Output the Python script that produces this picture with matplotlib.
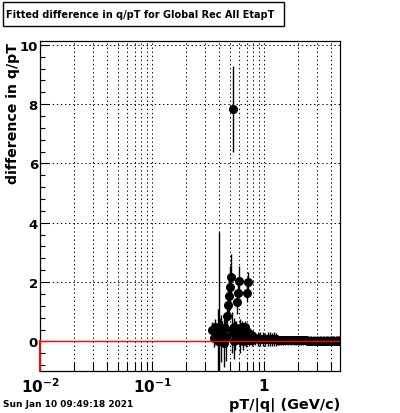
import numpy as np
import matplotlib
matplotlib.use("Agg")
import matplotlib.pyplot as plt
from matplotlib.patches import Rectangle

# low pT bins (width 0.01 GeV/c)
pt_lo = [0.345, 0.355, 0.365, 0.375, 0.385, 0.395, 0.405, 0.415, 0.425, 0.435,
         0.445, 0.455, 0.465, 0.475, 0.485, 0.495, 0.505, 0.515, 0.525, 0.535,
         0.545, 0.555, 0.565, 0.575, 0.585, 0.595, 0.605, 0.615, 0.625, 0.635,
         0.645, 0.655, 0.665, 0.675, 0.685, 0.695, 0.705, 0.715, 0.725, 0.735,
         0.745, 0.755, 0.765, 0.775, 0.785, 0.795]
dq_lo = [0.40, 0.10, 0.50, 0.20, 0.00, 0.35, 0.50, 0.10, 0.30, -0.05,
         0.45, 0.15, 0.86, 1.22, 1.54, 1.83, 2.18, 0.30, 7.85, 0.00,
         0.50, 0.20, 0.40, 1.32, 1.63, 2.05, 0.05, 0.45, 0.20, 0.50,
         0.00, 0.35, 0.15, 0.50, 0.05, 0.30, 1.63, 2.00, 0.20, 0.05,
         0.25, 0.10, 0.20, 0.05, 0.15, 0.10]
err_lo = [0.25, 0.30, 0.25, 0.30, 1.10, 3.35, 0.30, 0.80, 0.40, 0.80,
          0.30, 0.80, 0.40, 0.50, 0.60, 0.70, 0.75, 0.70, 1.45, 0.60,
          0.30, 0.50, 0.30, 0.40, 0.40, 0.50, 0.45, 0.30, 0.30, 0.20,
          0.30, 0.20, 0.25, 0.20, 0.25, 0.20, 0.30, 0.35, 0.20, 0.20,
          0.20, 0.20, 0.20, 0.20, 0.20, 0.20]

# middle pT bins (width 0.05 GeV/c)
pt_mid = [0.825, 0.875, 0.925, 0.975, 1.025, 1.075, 1.125, 1.175, 1.225, 1.275,
          1.325, 1.375, 1.425, 1.475]
dq_mid = [0.10, 0.08, 0.08, 0.08, 0.07, 0.08, 0.08, 0.07, 0.08, 0.07,
          0.03, 0.03, 0.03, 0.03]
err_mid = [0.22, 0.22, 0.22, 0.22, 0.22, 0.22, 0.22, 0.22, 0.22, 0.22,
           0.16, 0.16, 0.16, 0.16]

# higher pT bins (width 0.1 GeV/c)
pt_hi = [1.55, 1.65, 1.75, 1.85, 1.95, 2.05, 2.15, 2.25, 2.35, 2.45,
         2.55, 2.65, 2.75, 2.85, 2.95, 3.05, 3.15, 3.25, 3.35, 3.45,
         3.55, 3.65, 3.75, 3.85, 3.95, 4.05, 4.15, 4.25, 4.35, 4.45,
         4.55, 4.65, 4.75]
dq_hi = [0.03, 0.03, 0.03, 0.03, 0.03, 0.03, 0.03, 0.03, 0.03, 0.02,
         0.02, 0.02, 0.02, 0.02, 0.02, 0.02, 0.02, 0.02, 0.02, 0.02,
         0.02, 0.02, 0.02, 0.02, 0.02, 0.02, 0.02, 0.02, 0.02, 0.02,
         0.02, 0.02, 0.02]
err_hi = [0.16, 0.16, 0.16, 0.16, 0.16, 0.16, 0.16, 0.16, 0.16, 0.15,
          0.15, 0.15, 0.15, 0.15, 0.15, 0.15, 0.15, 0.15, 0.15, 0.15,
          0.15, 0.15, 0.15, 0.15, 0.15, 0.15, 0.15, 0.15, 0.15, 0.15,
          0.15, 0.15, 0.15]

title = "Fitted difference in q/pT for Global Rec All EtapT"
datestr = "Sun Jan 10 09:49:18 2021"

fig = plt.figure(figsize=(4.0, 4.14), dpi=100)
ax = fig.add_axes([0.1, 0.1014, 0.75, 0.7972])

ax.set_xscale("log")
ax.set_xlim(0.01, 4.77)
ax.set_ylim(-1.0, 10.13)

# grid
ax.grid(which="both", axis="x", color="k", ls=(0, (1.4, 2.8)), lw=0.7)
ax.grid(which="major", axis="y", color="k", ls=(0, (1.4, 2.8)), lw=0.7)
ax.set_axisbelow(True)

ax.axhline(0, color="red", lw=1.0, zorder=4)
ax.plot([0.01, 0.01], [-1.0, 0.0], color="red", lw=1.4, clip_on=False, zorder=5)

ax.errorbar(pt_lo, dq_lo, xerr=0.005, yerr=err_lo, fmt="o", color="k",
            ms=5.5, lw=1.0, capsize=0, zorder=3)
ax.errorbar(pt_mid, dq_mid, xerr=0.025, yerr=err_mid, fmt="o", color="k",
            ms=5.5, lw=1.0, capsize=0, zorder=3)
ax.errorbar(pt_hi, dq_hi, xerr=0.05, yerr=err_hi, fmt="o", color="k",
            ms=5.5, lw=1.0, capsize=0, zorder=3)

# ticks
ax.set_xticks([0.01, 0.1, 1])
ax.set_xticklabels([r"$\mathbf{10^{-2}}$", r"$\mathbf{10^{-1}}$", r"$\mathbf{1}$"])
ax.set_yticks([0, 2, 4, 6, 8, 10])
ax.set_yticks(np.arange(-0.8, 10.1, 0.4), minor=True)
ax.tick_params(which="both", direction="in", top=False, right=False)
ax.tick_params(axis="x", which="major", length=7, width=0.8, labelsize=11, pad=4)
ax.tick_params(axis="x", which="minor", length=6.5, width=0.8)
ax.tick_params(axis="y", which="major", length=6.5, width=0.8, labelsize=9.5, pad=1.5)
ax.tick_params(axis="y", which="minor", length=3.5, width=0.8)
for lab in ax.get_yticklabels():
    lab.set_fontweight("bold")
for s in ax.spines.values():
    s.set_linewidth(0.9)

# axis titles
fig.text(0.85, 1 - 405 / 414, "pT/|q| (GeV/c)", ha="right", va="center",
         fontsize=10.4, fontweight="bold")
fig.text(13 / 400, 1 - 43 / 414, "difference in q/pT", ha="center", va="top",
         rotation=90, fontsize=10.2, fontweight="bold")

# title box and date
fig.patches.append(Rectangle((3 / 400, 1 - 27 / 414), 281 / 400, 24 / 414,
                             transform=fig.transFigure, facecolor="white",
                             edgecolor="k", lw=1.0))
fig.text(6 / 400, 1 - 15 / 414, title, ha="left", va="center",
         fontsize=7, fontweight="bold")
fig.text(3 / 400, 1 - 405 / 414, datestr, ha="left", va="center",
         fontsize=6.5, fontweight="bold")

fig.savefig("out.png", dpi=100)
